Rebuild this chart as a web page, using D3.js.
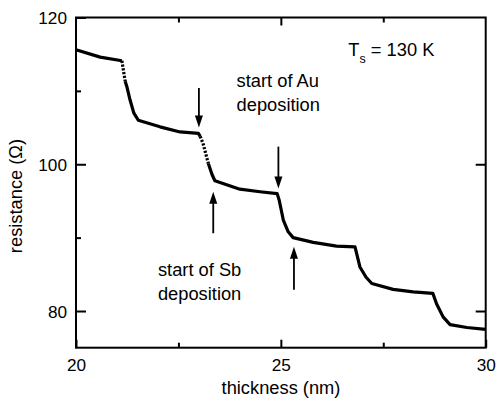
<!DOCTYPE html>
<html>
<head>
<meta charset="utf-8">
<script src="https://cdn.jsdelivr.net/npm/d3@7"></script>
<style>
  html, body { margin: 0; padding: 0; background: #fff; }
  svg { display: block; font-family: "Liberation Sans", Arial, Helvetica, sans-serif; }
</style>
</head>
<body>
<svg id="chart" width="497" height="403"></svg>
<script>
// ---- data ----
const thickness = [20.0, 20.59, 21.12, 21.2, 21.24, 21.32, 21.41, 21.52, 22.05, 22.54, 22.99, 23.03, 23.1, 23.23, 23.32, 23.39,
  24.0, 24.49, 24.91, 24.96, 25.06, 25.18, 25.3, 25.79, 26.36, 26.81, 26.93, 27.08, 27.22, 27.74, 28.23, 28.71,
  28.8, 28.96, 29.13, 29.54, 30.0];
const resistance = [115.6, 114.6, 114.1, 111.3, 110.6, 108.75, 107.0, 106.0, 105.1, 104.4, 104.2, 103.8, 102.85, 100.1, 98.6, 97.75,
  96.6, 96.25, 96.0, 95.1, 92.4, 90.8, 90.0, 89.35, 88.85, 88.75, 86.0, 84.6, 83.75, 82.95, 82.6, 82.4,
  81.0, 79.2, 78.15, 77.75, 77.5];
const dottedRanges = [[21.12, 21.2], [23.03, 23.23]];

const arrowThickness = [23.0, 23.35, 24.94, 25.32];
const arrowFrom = [110.4, 90.6, 102.4, 82.9];
const arrowTo = [105.0, 96.25, 96.7, 88.75];

const xMajorTicks = [20, 25, 30];
const xMinorTicks = [22.5, 27.5];
const yMajorTicks = [80, 100, 120];
const yMinorTicks = [90, 110];

const xLabel = "thickness (nm)";
const yLabel = "resistance (Ω)";
const annotations = [
  { t: 23.92, r: 110.5, lines: ["start of Au", "deposition"] },
  { t: 22.0, r: 84.75, lines: ["start of Sb", "deposition"] }
];

(function () {
// ---- layout ----
const svg = d3.select("#chart");
const L = 76, R = 485.7, T = 17.5, B = 347.7;
const x = d3.scaleLinear().domain([20, 30]).range([L, R]);
const y = d3.scaleLinear().domain([75, 120]).range([B, T]);

const fs = 18.3;

// frame
svg.append("rect").attr("x", L).attr("y", T).attr("width", R - L).attr("height", B - T)
  .attr("fill", "none").attr("stroke", "#000").attr("stroke-width", 2);

// axes via d3 axis generators (inward ticks)
const gLeft = svg.append("g").attr("transform", `translate(${L},0)`)
  .call(d3.axisLeft(y).tickValues(yMajorTicks).tickSize(-10).tickFormat(d3.format("d")));
const gLeftMinor = svg.append("g").attr("transform", `translate(${L},0)`)
  .call(d3.axisLeft(y).tickValues(yMinorTicks).tickSize(-5).tickFormat(""));
const gRight = svg.append("g").attr("transform", `translate(${R},0)`)
  .call(d3.axisRight(y).tickValues([80, 100]).tickSize(-10).tickFormat(""));
const gBottom = svg.append("g").attr("transform", `translate(0,${B})`)
  .call(d3.axisBottom(x).tickValues(xMajorTicks).tickSize(-8).tickFormat(d3.format("d")));
const gBottomMinor = svg.append("g").attr("transform", `translate(0,${B})`)
  .call(d3.axisBottom(x).tickValues(xMinorTicks).tickSize(-5).tickFormat(""));
const gTop = svg.append("g").attr("transform", `translate(0,${T})`)
  .call(d3.axisTop(x).tickValues([25]).tickSize(-8).tickFormat(""));
const gTopMinor = svg.append("g").attr("transform", `translate(0,${T})`)
  .call(d3.axisTop(x).tickValues(xMinorTicks).tickSize(-5).tickFormat(""));

[gLeft, gLeftMinor, gRight, gBottom, gBottomMinor, gTop, gTopMinor].forEach(g => {
  g.select(".domain").remove();
  g.selectAll(".tick line").attr("stroke", "#000").attr("stroke-width", 2);
  g.selectAll(".tick text").attr("fill", "#000").attr("font-size", 17.2)
    .attr("font-family", '"Liberation Sans", Arial, sans-serif');
});
gLeft.selectAll(".tick text").attr("x", -9).attr("dy", "0.36em");
gBottom.selectAll(".tick text").attr("y", 11).attr("dy", "0.71em");

// axis labels
svg.append("text").attr("x", 281).attr("y", 393.5).attr("text-anchor", "middle")
  .attr("font-size", fs).text(xLabel);
svg.append("text").attr("transform", `translate(22,196) rotate(-90)`).attr("text-anchor", "middle")
  .attr("font-size", fs).text(yLabel);

// curve split into solid and dotted runs
const pts = thickness.map((t, i) => [t, resistance[i]]);
const isDotted = (a, b) => {
  const m = (a[0] + b[0]) / 2;
  return dottedRanges.some(r => m > r[0] && m < r[1]);
};
const runs = [];
for (let i = 0; i < pts.length - 1; i++) {
  const d = isDotted(pts[i], pts[i + 1]);
  const last = runs[runs.length - 1];
  if (last && last.dotted === d) last.pts.push(pts[i + 1]);
  else runs.push({ dotted: d, pts: [pts[i], pts[i + 1]] });
}
const line = d3.line().x(d => x(d[0])).y(d => y(d[1])).curve(d3.curveLinear);
svg.append("g").selectAll("path").data(runs).join("path")
  .attr("d", d => line(d.pts))
  .attr("fill", "none").attr("stroke", "#000")
  .attr("stroke-width", 3.2)
  .attr("stroke-linejoin", "round")
  .attr("stroke-dasharray", d => d.dotted ? "2.2,1.6" : null);

// arrows
const ag = svg.append("g");
arrowThickness.forEach((t, i) => {
  const x0 = x(t), y0 = y(arrowFrom[i]), y1 = y(arrowTo[i]);
  const dir = y1 > y0 ? 1 : -1;
  const headLen = 12, headW = 4;
  ag.append("line").attr("x1", x0).attr("x2", x0).attr("y1", y0).attr("y2", y1 - dir * headLen + dir)
    .attr("stroke", "#000").attr("stroke-width", 1.8);
  ag.append("path")
    .attr("d", `M${x0},${y1} L${x0 - headW},${y1 - dir * headLen} L${x0 + headW},${y1 - dir * headLen} Z`)
    .attr("fill", "#000");
});

// annotations
annotations.forEach(a => {
  const tx = svg.append("text").attr("font-size", fs).attr("x", x(a.t)).attr("y", y(a.r));
  a.lines.forEach((ln, i) => {
    tx.append("tspan").attr("x", x(a.t)).attr("dy", i === 0 ? 0 : 24).text(ln);
  });
});

// T_s label
const ts = svg.append("text").attr("x", 348.3).attr("y", 56).attr("font-size", 18.3);
ts.append("tspan").text("T");
ts.append("tspan").attr("font-size", 12.5).attr("dy", 6.5).text("s");
ts.append("tspan").attr("dy", -6.5).text(" = 130 K");
})();
</script>
</body>
</html>
